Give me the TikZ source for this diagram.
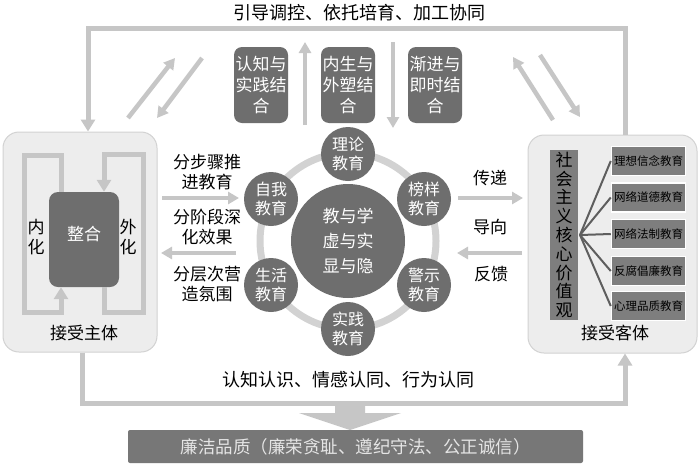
\documentclass[tikz,border=0pt]{standalone}
\usepackage{fontspec}
\setmainfont{Noto Sans CJK SC}
\usetikzlibrary{arrows.meta}
\definecolor{lg}{HTML}{C6C6C6}
\definecolor{ringc}{HTML}{D2D2D2}
\definecolor{dg}{HTML}{6E6E6E}
\definecolor{mg}{HTML}{7E7E7E}
\definecolor{bottomc}{HTML}{777777}
\definecolor{boxbg}{HTML}{EDEDED}
\definecolor{boxln}{HTML}{D2D2D2}
\definecolor{fanc}{HTML}{5E5E5E}
\begin{document}
\begin{tikzpicture}[x=1pt,y=-1pt,
 fl/.style={draw=lg,line width=5pt},
 fa/.style={draw=lg,line width=5pt,-{Triangle[length=12pt,width=14pt]}},
 sa/.style={draw=lg,line width=4.5pt,-{Triangle[length=11pt,width=12pt]}},
 txt/.style={font=\fontsize{17}{19.5}\selectfont,align=center,inner sep=0pt,text=black},
 topbox/.style={fill=dg,rounded corners=8pt,minimum width=54pt,minimum height=76pt,text=white,font=\fontsize{17}{21}\selectfont,align=center,inner sep=0pt},
 circ/.style={circle,fill=dg,minimum size=54pt,inner sep=0pt,text=white,font=\fontsize{16}{19}\selectfont,align=center},
 panel/.style={fill=boxbg,draw=boxln,line width=1pt,rounded corners=16pt},
 sbox/.style={fill=mg,draw=white,line width=1.5pt,minimum width=74pt,minimum height=29pt,inner sep=0pt,font=\fontsize{11.5}{13}\selectfont},
 fanline/.style={draw=fanc,line width=2pt},
]
\useasboundingbox (0,0) rectangle (700,466);
\fill[white] (0,0) rectangle (700,466);

% panels
\node[panel,minimum width=154pt,minimum height=220pt] (L) at (80,242) {};
\node[panel,minimum width=169pt,minimum height=218pt] (R) at (612.5,244) {};

% top loop
\coordinate (tr) at (625,28);
\coordinate (tl) at (88,28);
\draw[fa] (R.north -| tr) -- (tr) -- (tl) -- (L.north -| tl);

% bottom loop
\coordinate (bl) at (82,403);
\coordinate (br) at (625,403);
\draw[fa] (L.south -| bl) -- (bl) -- (br) -- (R.south -| br);

% bottom box and big arrow
\node[fill=bottomc,rounded corners=2pt,minimum width=455pt,minimum height=33pt,inner sep=0pt,text=white!90!black,font=\fontsize{17.5}{20}\selectfont] (B) at (355.5,446.5) {廉洁品质（廉荣贪耻、遵纪守法、公正诚信）};
\fill[lg] (335,401) -- (365,401) -- (365,413) -- (401,413) -- (350,430) -- (299,413) -- (335,413) -- cycle;

% top text and mid text
\node[txt,font=\fontsize{18}{20}\selectfont] (top) at (359,13) {引导调控、依托培育、加工协同};
\node[txt,font=\fontsize{18}{20}\selectfont] (mid) at (348.5,380) {认知认识、情感认同、行为认同};

% top boxes
\node[topbox] (b1) at (261,85) {认知与\\实践结\\合};
\node[topbox] (b2) at (348,85) {内生与\\外塑结\\合};
\node[topbox] (b3) at (435,85) {渐进与\\即时结\\合};
\coordinate (v1a) at (305,125); \coordinate (v1b) at (305,42);
\coordinate (v2a) at (393,42);  \coordinate (v2b) at (393,128);
\draw[sa] (v1a) -- (v1b);
\draw[sa] (v2a) -- (v2b);

% diagonal arrows
\coordinate (d1s) at (128,118); \coordinate (d1e) at (175,58);
\coordinate (d2s) at (202,58);  \coordinate (d2e) at (157,118);
\coordinate (d3s) at (553,120); \coordinate (d3e) at (513,57);
\coordinate (d4s) at (540,55);  \coordinate (d4e) at (580,117);
\draw[sa] (d1s) -- (d1e);
\draw[sa] (d2s) -- (d2e);
\draw[sa] (d3s) -- (d3e);
\draw[sa] (d4s) -- (d4e);

% center
\coordinate (O) at (348,241);
\draw[draw=ringc,line width=7pt] (O) circle[radius=88pt];
\node[circle,fill=dg,minimum size=114pt,inner sep=0pt,text=white,font=\fontsize{17}{25}\selectfont,align=center] (C) at (O) {教与学\\虚与实\\显与隐};
\node[circ] (c1) at (348,154) {理论\\教育};
\node[circ] (c2) at (424,199) {榜样\\教育};
\node[circ] (c3) at (424,285) {警示\\教育};
\node[circ] (c4) at (348,329) {实践\\教育};
\node[circ] (c5) at (271,285) {生活\\教育};
\node[circ] (c6) at (271,199) {自我\\教育};

% left labels and arrows
\node[txt] (t1) at (207,172) {分步骤推\\进教育};
\node[txt] (t2) at (207,227) {分阶段深\\化效果};
\node[txt] (t3) at (207,284) {分层次营\\造氛围};
\coordinate (a1s) at (162,198); \coordinate (a1e) at (239,198);
\coordinate (a2s) at (236,253); \coordinate (a2e) at (161,253);
\draw[sa] (a1s) -- (a1e);
\draw[sa] (a2s) -- (a2e);

% right labels and arrows
\node[txt] (t4) at (490,178) {传递};
\node[txt] (t5) at (490,227) {导向};
\node[txt] (t6) at (491,274) {反馈};
\coordinate (a3s) at (458,198); \coordinate (a3e) at (523,198);
\coordinate (a4s) at (522,253); \coordinate (a4e) at (457,253);
\draw[sa] (a3s) -- (a3e);
\draw[sa] (a4s) -- (a4e);

% left panel internals
\node[fill=dg,rounded corners=9pt,minimum width=70pt,minimum height=95pt,inner sep=0pt] (Z) at (84,239.5) {};
\node[txt,text=white] (zt) at (84,234) {整合};
\coordinate (l1) at (61,155); \coordinate (l2) at (24,155);
\coordinate (l3) at (24,312); \coordinate (l4) at (61,312);
\draw[fa] (Z.north -| l1) -- (l1) -- (l2) -- (l3) -- (l4) -- (Z.south -| l4);
\coordinate (r1) at (104,312); \coordinate (r2) at (143,312);
\coordinate (r3) at (143,154); \coordinate (r4) at (104,154);
\draw[fa] (Z.south -| r1) -- (r1) -- (r2) -- (r3) -- (r4) -- (Z.north -| r4);
\node[txt] (nh) at (36,237) {内\\化};
\node[txt] (wh) at (128,237) {外\\化};
\node[txt] (js) at (84,333) {接受主体};

% right panel internals
\node[fill=mg,minimum width=28pt,minimum height=170pt,inner sep=0pt,font=\fontsize{17}{18.8}\selectfont,align=center] (SV) at (564,235) {社\\会\\主\\义\\核\\心\\价\\值\\观};
\node[sbox] (s1) at (648.5,161) {理想信念教育};
\node[sbox] (s2) at (648.5,197.5) {网络道德教育};
\node[sbox] (s3) at (648.5,234) {网络法制教育};
\node[sbox] (s4) at (648.5,271) {反腐倡廉教育};
\node[sbox] (s5) at (648.5,306) {心理品质教育};
\coordinate (fan) at (580,235);
\foreach \i in {1,...,5} \draw[fanline] (fan) -- (s\i.west);
\node[txt] (jk) at (615,333) {接受客体};
\end{tikzpicture}
\end{document}
